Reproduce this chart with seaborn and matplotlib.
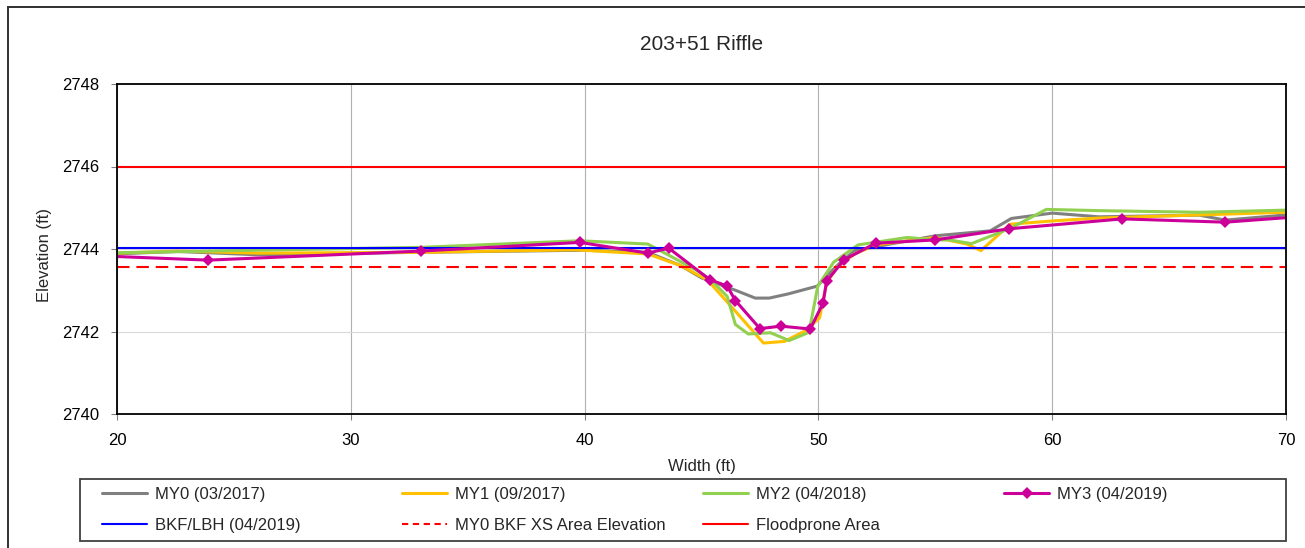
import matplotlib
matplotlib.use("Agg")
import matplotlib.pyplot as plt
import seaborn as sns
from matplotlib.lines import Line2D
from matplotlib.patches import Rectangle

# ---------------- data ----------------
my0_x = [19.0, 22.6, 26.0, 33.0, 40.0, 42.7, 44.1, 45.0, 45.55, 46.45, 47.3, 47.9, 48.7,
         49.95, 50.4, 50.95, 51.55, 52.3, 55.0, 57.35, 58.25, 60.0, 62.0, 66.3, 67.4, 70.5]
my0_y = [2743.86, 2743.94, 2743.86, 2743.92, 2743.97, 2743.92, 2743.6, 2743.3, 2743.19,
         2743.0, 2742.81, 2742.81, 2742.91, 2743.1, 2743.37, 2743.68, 2743.96, 2744.04,
         2744.32, 2744.44, 2744.74, 2744.87, 2744.78, 2744.82, 2744.7, 2744.85]

my1_x = [19.0, 22.6, 26.0, 33.0, 39.6, 42.7, 44.1, 45.25, 46.0, 47.65, 48.55, 49.45, 50.05,
         50.35, 50.8, 51.55, 52.45, 55.0, 56.35, 56.95, 58.2, 60.0, 62.0, 70.5]
my1_y = [2743.88, 2743.95, 2743.9, 2743.92, 2743.98, 2743.88, 2743.6, 2743.25, 2742.78,
         2741.72, 2741.76, 2742.02, 2742.33, 2743.17, 2743.56, 2743.88, 2744.1, 2744.28,
         2744.12, 2743.96, 2744.6, 2744.68, 2744.75, 2744.9]

my2_x = [19.0, 25.0, 33.0, 39.8, 42.7, 43.5, 44.8, 45.4, 46.1, 46.45, 47.0, 47.95, 48.75,
         49.6, 49.97, 50.65, 51.7, 53.8, 55.0, 55.6, 56.55, 58.2, 59.75, 62.0, 66.3, 70.5]
my2_y = [2743.9, 2743.96, 2744.04, 2744.2, 2744.12, 2743.88, 2743.48, 2743.25, 2742.85,
         2742.17, 2741.94, 2741.97, 2741.78, 2741.98, 2743.09, 2743.68, 2744.1, 2744.28,
         2744.22, 2744.22, 2744.13, 2744.5, 2744.96, 2744.93, 2744.89, 2744.95]

my3_x = [19.0, 23.9, 33.0, 39.8, 42.7, 43.6, 45.35, 46.1, 46.45, 47.5, 48.4, 49.65, 50.2,
         50.35, 51.1, 52.45, 55.0, 58.15, 63.0, 67.4, 70.5]
my3_y = [2743.84, 2743.73, 2743.95, 2744.16, 2743.9, 2744.02, 2743.26, 2743.1, 2742.75,
         2742.07, 2742.13, 2742.06, 2742.69, 2743.22, 2743.74, 2744.14, 2744.22, 2744.49,
         2744.73, 2744.65, 2744.78]

ref_x = [20, 70]
bkf_y = [2744.03, 2744.03]
my0_bkf_y = [2743.57, 2743.57]
flood_y = [2746.0, 2746.0]

x_ticks = [20, 30, 40, 50, 60, 70]
y_ticks = [2740, 2742, 2744, 2746, 2748]

labels = ["MY0 (03/2017)", "MY1 (09/2017)", "MY2 (04/2018)", "MY3 (04/2019)",
          "BKF/LBH (04/2019)", "MY0 BKF XS Area Elevation", "Floodprone Area"]

# ---------------- style ----------------
sns.set_theme(style="white")
plt.rcParams['font.family'] = ['Liberation Sans', 'DejaVu Sans']

W, H = 1305, 548
fig = plt.figure(figsize=(W / 100, H / 100), dpi=100)
fig.patch.set_facecolor("white")
ax = fig.add_axes([117 / W, 1 - 414 / H, (1286 - 117) / W, (414 - 84) / H])

c_my0, c_my1, c_my2, c_my3 = "#808080", "#FFC000", "#92D050", "#CC0099"
c_bkf, c_red = "#0000FF", "#FF0000"
lw = 2.2

sns.lineplot(x=my0_x, y=my0_y, ax=ax, sort=False, estimator=None, color=c_my0, lw=lw)
sns.lineplot(x=my1_x, y=my1_y, ax=ax, sort=False, estimator=None, color=c_my1, lw=lw)
sns.lineplot(x=my2_x, y=my2_y, ax=ax, sort=False, estimator=None, color=c_my2, lw=lw)
sns.lineplot(x=ref_x, y=bkf_y, ax=ax, sort=False, estimator=None, color=c_bkf, lw=1.5)
sns.lineplot(x=ref_x, y=my0_bkf_y, ax=ax, sort=False, estimator=None, color=c_red, lw=1.5,
             dashes=False)
ax.lines[-1].set_dashes((6, 3.3))
sns.lineplot(x=ref_x, y=flood_y, ax=ax, sort=False, estimator=None, color=c_red, lw=1.5)
sns.lineplot(x=my3_x, y=my3_y, ax=ax, sort=False, estimator=None, color=c_my3, lw=lw,
             marker="D", markersize=6.5, markeredgewidth=0)

ax.set_xlim(20, 70)
ax.set_ylim(2740, 2748)
ax.set_xticks(x_ticks)
ax.set_yticks(y_ticks)
ax.set_xticklabels([str(v) for v in x_ticks])
ax.set_yticklabels([str(v) for v in y_ticks])
ax.xaxis.grid(True, color="#b0b0b0", lw=0.8)
ax.yaxis.grid(True, color="#d9d9d9", lw=0.8)
ax.set_axisbelow(True)
for s in ax.spines.values():
    s.set_visible(True)
    s.set_color("black")
    s.set_linewidth(1.3)
ax.tick_params(axis="both", which="major", bottom=True, left=True, direction="out",
               length=4, width=0.8, color="#808080", labelsize=12, labelcolor="black")
ax.tick_params(axis="y", pad=9)
ax.tick_params(axis="x", pad=10)

ax.set_xlabel("Width (ft)", fontsize=12, va="center")
ax.set_ylabel("Elevation (ft)", fontsize=12, va="center")
ax.xaxis.set_label_coords(0.5, (414 - 466) / 330)
ax.yaxis.set_label_coords((45 - 117) / 1169, (414 - 255) / 330)

fig.text(701.5 / W, 1 - 45 / H, "203+51 Riffle", fontsize=15, ha="center", va="center")

# figure border
fig.add_artist(Rectangle((8 / W, -0.1), 1.2, 1 - 7 / H + 0.1, transform=fig.transFigure,
                         fill=False, ec="#303030", lw=1.4))

# legend frame
fig.add_artist(Rectangle((80 / W, 1 - 541 / H), (1286 - 80) / W, (541 - 479) / H,
                         transform=fig.transFigure, fill=False, ec="#404040", lw=1.3))

h_my0 = Line2D([], [], color=c_my0, lw=lw)
h_my1 = Line2D([], [], color=c_my1, lw=lw)
h_my2 = Line2D([], [], color=c_my2, lw=lw)
h_my3 = Line2D([], [], color=c_my3, lw=lw, marker="D", markersize=6.5, markeredgewidth=0)
h_bkf = Line2D([], [], color=c_bkf, lw=1.5)
h_dash = Line2D([], [], color=c_red, lw=1.5, dashes=(3, 2.2))
h_flood = Line2D([], [], color=c_red, lw=1.5)

cols = [([h_my0, h_bkf], [labels[0], labels[4]], 102),
        ([h_my1, h_dash], [labels[1], labels[5]], 402),
        ([h_my2, h_flood], [labels[2], labels[6]], 703),
        ([h_my3], [labels[3]], 1004)]
for hs, ls, xpx in cols:
    leg = fig.legend(handles=hs, labels=ls, loc="upper left",
                     bbox_to_anchor=(xpx / W, 1 - 486.5 / H), frameon=False,
                     borderpad=0, borderaxespad=0, handlelength=2.7, handletextpad=0.5,
                     labelspacing=1.0, fontsize=12)

fig.savefig("out.png", dpi=100, facecolor="white")
